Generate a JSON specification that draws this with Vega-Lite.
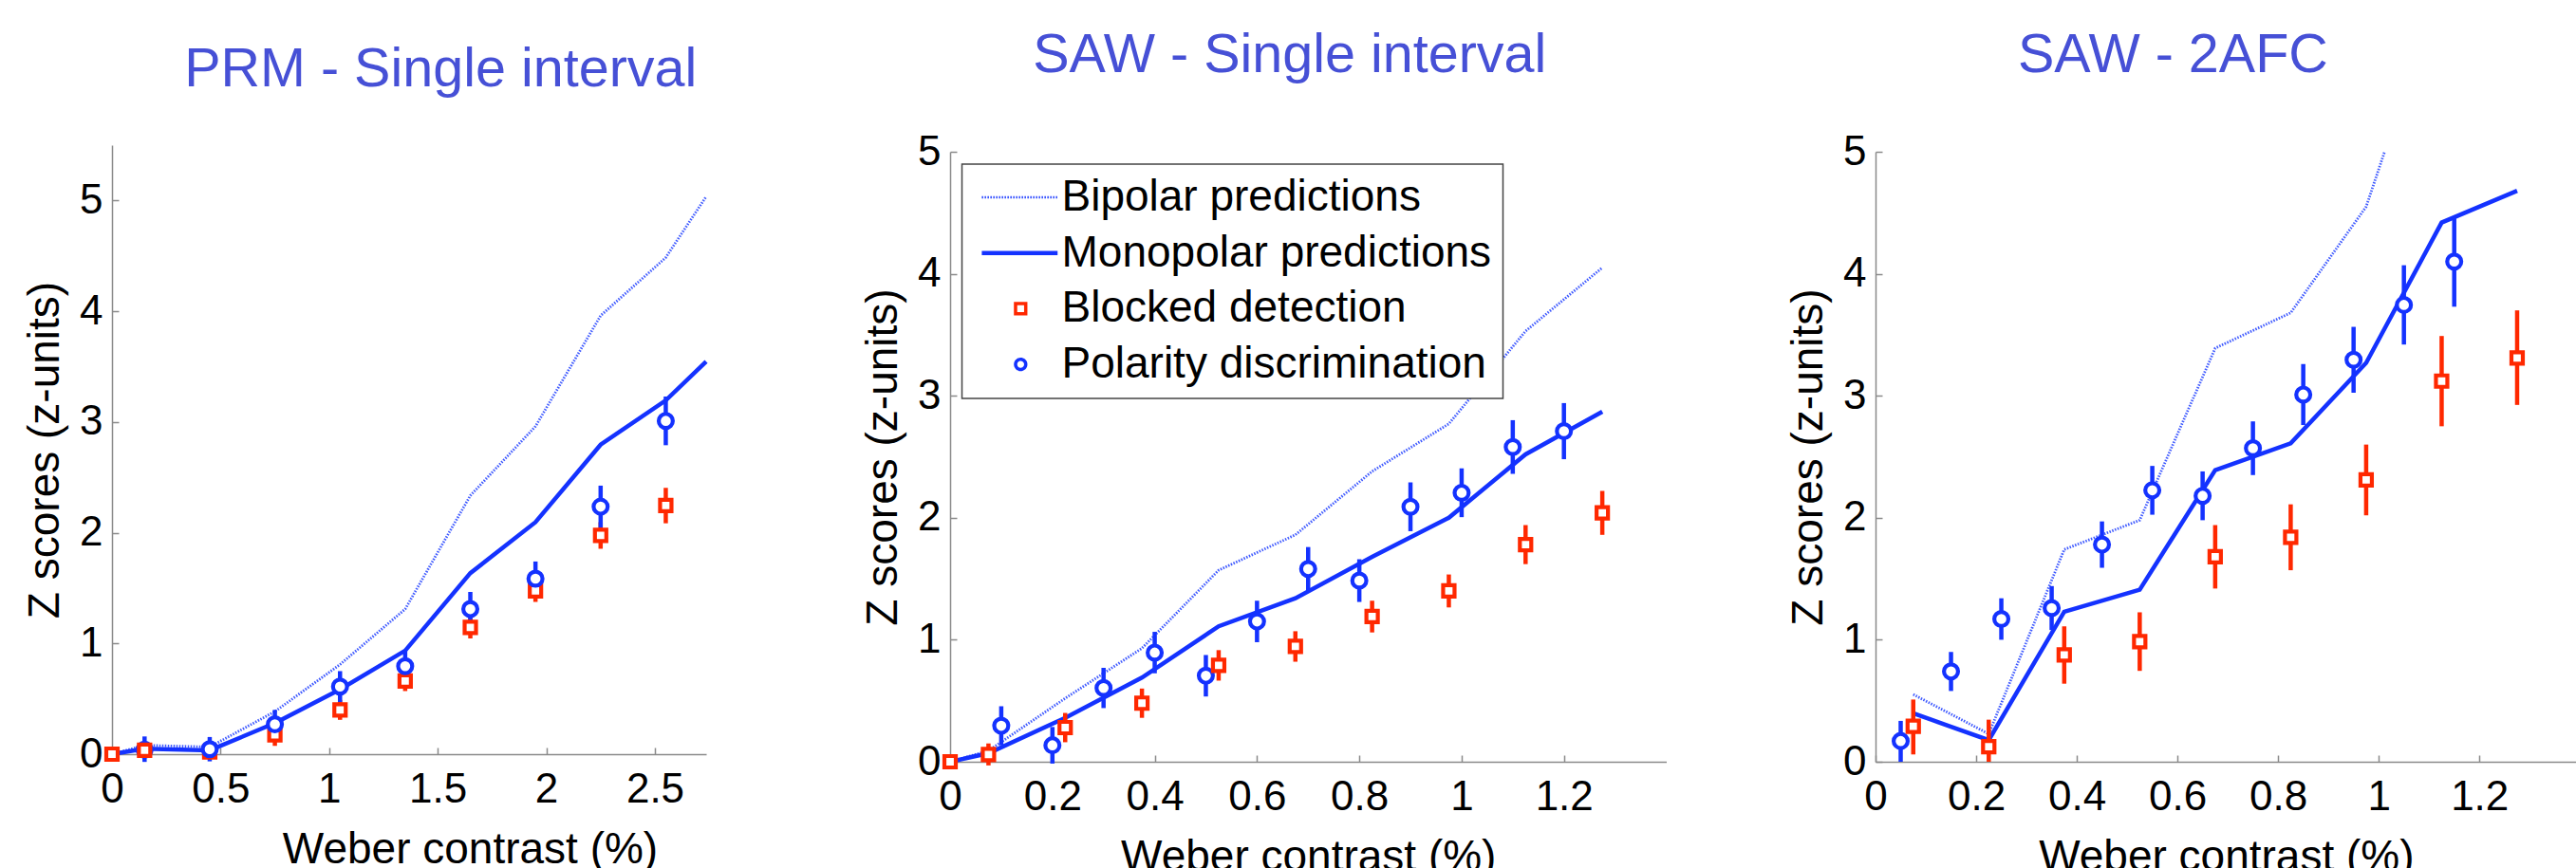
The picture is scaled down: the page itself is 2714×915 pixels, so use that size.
{
  "$schema": "https://vega.github.io/schema/vega-lite/v6.json",
  "usermeta": {"embedOptions": {"actions": false}},
  "background": "white",
  "padding": {"left": 24, "top": 29, "right": 0, "bottom": 0},
  "bounds": "flush",
  "spacing": 220,
  "config": {
    "view": {"stroke": null},
    "font": "Liberation Sans",
    "axis": {"labelFont": "Liberation Sans", "labelFontSize": 44, "labelColor": "#000000", "titleFont": "Liberation Sans", "titleFontSize": 46, "titleFontWeight": "normal", "titleColor": "#000000", "domainColor": "#8a8a8a", "domainWidth": 1.5, "tickColor": "#8a8a8a", "tickWidth": 1.5, "tickSize": -7, "grid": false, "format": "~g", "labelFlush": false, "labelOverlap": false},
    "axisX": {"labelPadding": 22, "titleY": 114, "titleBaseline": "alphabetic"},
    "axisY": {"labelPadding": 17, "titleX": -71, "titleBaseline": "middle", "titleAngle": 270, "titleAlign": "center"},
    "title": {"font": "Liberation Sans", "fontSize": 57.5, "fontWeight": "normal", "color": "#4650d6", "anchor": "middle", "frame": "group", "offset": 50, "baseline": "alphabetic"}
  },
  "datasets": {
    "p1lines": [
      {"series": "Bipolar predictions", "x": 0, "y": 0},
      {"series": "Bipolar predictions", "x": 0.15, "y": 0.08},
      {"series": "Bipolar predictions", "x": 0.45, "y": 0.065},
      {"series": "Bipolar predictions", "x": 0.75, "y": 0.385},
      {"series": "Bipolar predictions", "x": 1.05, "y": 0.81},
      {"series": "Bipolar predictions", "x": 1.35, "y": 1.31},
      {"series": "Bipolar predictions", "x": 1.65, "y": 2.335},
      {"series": "Bipolar predictions", "x": 1.95, "y": 2.96},
      {"series": "Bipolar predictions", "x": 2.25, "y": 3.96},
      {"series": "Bipolar predictions", "x": 2.55, "y": 4.485},
      {"series": "Bipolar predictions", "x": 2.736, "y": 5.035},
      {"series": "Monopolar predictions", "x": 0, "y": 0},
      {"series": "Monopolar predictions", "x": 0.15, "y": 0.05},
      {"series": "Monopolar predictions", "x": 0.45, "y": 0.035},
      {"series": "Monopolar predictions", "x": 0.75, "y": 0.28},
      {"series": "Monopolar predictions", "x": 1.05, "y": 0.585},
      {"series": "Monopolar predictions", "x": 1.35, "y": 0.935},
      {"series": "Monopolar predictions", "x": 1.65, "y": 1.635},
      {"series": "Monopolar predictions", "x": 1.95, "y": 2.095},
      {"series": "Monopolar predictions", "x": 2.25, "y": 2.795},
      {"series": "Monopolar predictions", "x": 2.55, "y": 3.195},
      {"series": "Monopolar predictions", "x": 2.736, "y": 3.545}
    ],
    "p1pts": [
      {"series": "Blocked detection", "x": 0, "y": 0, "lo": 0, "hi": 0},
      {"series": "Polarity discrimination", "x": 0.15, "y": 0.04, "lo": -0.07, "hi": 0.16},
      {"series": "Blocked detection", "x": 0.15, "y": 0.035, "lo": -0.03, "hi": 0.1},
      {"series": "Blocked detection", "x": 0.45, "y": 0.02, "lo": -0.03, "hi": 0.07},
      {"series": "Polarity discrimination", "x": 0.45, "y": 0.045, "lo": -0.065, "hi": 0.155},
      {"series": "Blocked detection", "x": 0.75, "y": 0.175, "lo": 0.075, "hi": 0.275},
      {"series": "Polarity discrimination", "x": 0.75, "y": 0.27, "lo": 0.14, "hi": 0.4},
      {"series": "Blocked detection", "x": 1.05, "y": 0.4, "lo": 0.31, "hi": 0.49},
      {"series": "Polarity discrimination", "x": 1.05, "y": 0.61, "lo": 0.47, "hi": 0.75},
      {"series": "Blocked detection", "x": 1.35, "y": 0.66, "lo": 0.57, "hi": 0.75},
      {"series": "Polarity discrimination", "x": 1.35, "y": 0.795, "lo": 0.655, "hi": 0.935},
      {"series": "Blocked detection", "x": 1.65, "y": 1.145, "lo": 1.045, "hi": 1.245},
      {"series": "Polarity discrimination", "x": 1.65, "y": 1.31, "lo": 1.155, "hi": 1.465},
      {"series": "Blocked detection", "x": 1.95, "y": 1.475, "lo": 1.375, "hi": 1.575},
      {"series": "Polarity discrimination", "x": 1.95, "y": 1.585, "lo": 1.43, "hi": 1.74},
      {"series": "Blocked detection", "x": 2.25, "y": 1.975, "lo": 1.855, "hi": 2.095},
      {"series": "Polarity discrimination", "x": 2.25, "y": 2.235, "lo": 2.045, "hi": 2.425},
      {"series": "Blocked detection", "x": 2.55, "y": 2.245, "lo": 2.085, "hi": 2.405},
      {"series": "Polarity discrimination", "x": 2.55, "y": 3.01, "lo": 2.79, "hi": 3.23}
    ],
    "p2lines": [
      {"series": "Bipolar predictions", "x": 0, "y": 0},
      {"series": "Bipolar predictions", "x": 0.075, "y": 0.09},
      {"series": "Bipolar predictions", "x": 0.225, "y": 0.52},
      {"series": "Bipolar predictions", "x": 0.375, "y": 0.93},
      {"series": "Bipolar predictions", "x": 0.525, "y": 1.57},
      {"series": "Bipolar predictions", "x": 0.675, "y": 1.86},
      {"series": "Bipolar predictions", "x": 0.825, "y": 2.38},
      {"series": "Bipolar predictions", "x": 0.975, "y": 2.77},
      {"series": "Bipolar predictions", "x": 1.125, "y": 3.53},
      {"series": "Bipolar predictions", "x": 1.275, "y": 4.05},
      {"series": "Monopolar predictions", "x": 0, "y": 0},
      {"series": "Monopolar predictions", "x": 0.075, "y": 0.07},
      {"series": "Monopolar predictions", "x": 0.225, "y": 0.36},
      {"series": "Monopolar predictions", "x": 0.375, "y": 0.69},
      {"series": "Monopolar predictions", "x": 0.525, "y": 1.11},
      {"series": "Monopolar predictions", "x": 0.675, "y": 1.34},
      {"series": "Monopolar predictions", "x": 0.825, "y": 1.68},
      {"series": "Monopolar predictions", "x": 0.975, "y": 2.0},
      {"series": "Monopolar predictions", "x": 1.125, "y": 2.52},
      {"series": "Monopolar predictions", "x": 1.275, "y": 2.87}
    ],
    "p2pts": [
      {"series": "Polarity discrimination", "x": 0.1, "y": 0.295, "lo": 0.135, "hi": 0.455},
      {"series": "Polarity discrimination", "x": 0.2, "y": 0.135, "lo": -0.015, "hi": 0.285},
      {"series": "Polarity discrimination", "x": 0.3, "y": 0.605, "lo": 0.44, "hi": 0.77},
      {"series": "Polarity discrimination", "x": 0.4, "y": 0.895, "lo": 0.725, "hi": 1.065},
      {"series": "Polarity discrimination", "x": 0.5, "y": 0.705, "lo": 0.535, "hi": 0.875},
      {"series": "Polarity discrimination", "x": 0.6, "y": 1.15, "lo": 0.98, "hi": 1.32},
      {"series": "Polarity discrimination", "x": 0.7, "y": 1.58, "lo": 1.4, "hi": 1.76},
      {"series": "Polarity discrimination", "x": 0.8, "y": 1.485, "lo": 1.31, "hi": 1.66},
      {"series": "Polarity discrimination", "x": 0.9, "y": 2.09, "lo": 1.89, "hi": 2.29},
      {"series": "Polarity discrimination", "x": 1.0, "y": 2.205, "lo": 2.005, "hi": 2.405},
      {"series": "Polarity discrimination", "x": 1.1, "y": 2.58, "lo": 2.36, "hi": 2.8},
      {"series": "Polarity discrimination", "x": 1.2, "y": 2.71, "lo": 2.48, "hi": 2.94},
      {"series": "Blocked detection", "x": 0, "y": 0, "lo": 0, "hi": 0},
      {"series": "Blocked detection", "x": 0.075, "y": 0.06, "lo": -0.03, "hi": 0.15},
      {"series": "Blocked detection", "x": 0.225, "y": 0.28, "lo": 0.16, "hi": 0.4},
      {"series": "Blocked detection", "x": 0.375, "y": 0.48, "lo": 0.36, "hi": 0.6},
      {"series": "Blocked detection", "x": 0.525, "y": 0.79, "lo": 0.665, "hi": 0.915},
      {"series": "Blocked detection", "x": 0.675, "y": 0.945, "lo": 0.82, "hi": 1.07},
      {"series": "Blocked detection", "x": 0.825, "y": 1.19, "lo": 1.06, "hi": 1.32},
      {"series": "Blocked detection", "x": 0.975, "y": 1.4, "lo": 1.265, "hi": 1.535},
      {"series": "Blocked detection", "x": 1.125, "y": 1.78, "lo": 1.62, "hi": 1.94},
      {"series": "Blocked detection", "x": 1.275, "y": 2.04, "lo": 1.86, "hi": 2.22}
    ],
    "p3lines": [
      {"series": "Bipolar predictions", "x": 0.075, "y": 0.552},
      {"series": "Bipolar predictions", "x": 0.225, "y": 0.228},
      {"series": "Bipolar predictions", "x": 0.375, "y": 1.74},
      {"series": "Bipolar predictions", "x": 0.525, "y": 1.98},
      {"series": "Bipolar predictions", "x": 0.675, "y": 3.39},
      {"series": "Bipolar predictions", "x": 0.825, "y": 3.68},
      {"series": "Bipolar predictions", "x": 0.975, "y": 4.55},
      {"series": "Bipolar predictions", "x": 1.0116, "y": 5.0},
      {"series": "Monopolar predictions", "x": 0.075, "y": 0.397},
      {"series": "Monopolar predictions", "x": 0.225, "y": 0.177},
      {"series": "Monopolar predictions", "x": 0.375, "y": 1.23},
      {"series": "Monopolar predictions", "x": 0.525, "y": 1.41},
      {"series": "Monopolar predictions", "x": 0.675, "y": 2.39},
      {"series": "Monopolar predictions", "x": 0.825, "y": 2.61},
      {"series": "Monopolar predictions", "x": 0.975, "y": 3.27},
      {"series": "Monopolar predictions", "x": 1.125, "y": 4.42},
      {"series": "Monopolar predictions", "x": 1.275, "y": 4.68}
    ],
    "p3pts": [
      {"series": "Polarity discrimination", "x": 0.05, "y": 0.17, "lo": 0, "hi": 0.335},
      {"series": "Polarity discrimination", "x": 0.15, "y": 0.74, "lo": 0.58, "hi": 0.9},
      {"series": "Polarity discrimination", "x": 0.25, "y": 1.17, "lo": 1.0, "hi": 1.34},
      {"series": "Polarity discrimination", "x": 0.35, "y": 1.26, "lo": 1.08, "hi": 1.44},
      {"series": "Polarity discrimination", "x": 0.45, "y": 1.78, "lo": 1.59, "hi": 1.97},
      {"series": "Polarity discrimination", "x": 0.55, "y": 2.225, "lo": 2.025, "hi": 2.425},
      {"series": "Polarity discrimination", "x": 0.65, "y": 2.18, "lo": 1.98, "hi": 2.38},
      {"series": "Polarity discrimination", "x": 0.75, "y": 2.57, "lo": 2.35, "hi": 2.79},
      {"series": "Polarity discrimination", "x": 0.85, "y": 3.01, "lo": 2.76, "hi": 3.26},
      {"series": "Polarity discrimination", "x": 0.95, "y": 3.295, "lo": 3.025, "hi": 3.565},
      {"series": "Polarity discrimination", "x": 1.05, "y": 3.745, "lo": 3.42, "hi": 4.07},
      {"series": "Polarity discrimination", "x": 1.15, "y": 4.1, "lo": 3.73, "hi": 4.455},
      {"series": "Blocked detection", "x": 0.075, "y": 0.29, "lo": 0.06, "hi": 0.51},
      {"series": "Blocked detection", "x": 0.225, "y": 0.124, "lo": 0, "hi": 0.345},
      {"series": "Blocked detection", "x": 0.375, "y": 0.876, "lo": 0.64, "hi": 1.11},
      {"series": "Blocked detection", "x": 0.525, "y": 0.985, "lo": 0.745, "hi": 1.225},
      {"series": "Blocked detection", "x": 0.675, "y": 1.68, "lo": 1.42, "hi": 1.94},
      {"series": "Blocked detection", "x": 0.825, "y": 1.84, "lo": 1.57, "hi": 2.11},
      {"series": "Blocked detection", "x": 0.975, "y": 2.31, "lo": 2.02, "hi": 2.6},
      {"series": "Blocked detection", "x": 1.125, "y": 3.12, "lo": 2.75, "hi": 3.49},
      {"series": "Blocked detection", "x": 1.275, "y": 3.31, "lo": 2.925, "hi": 3.7}
    ]
  },
  "resolve": {"scale": {"stroke": "independent", "shape": "independent", "size": "independent"}, "legend": {"stroke": "independent", "shape": "independent", "size": "independent"}},
  "hconcat": [
    {
      "width": 662.5,
      "height": 650,
      "title": {"text": "PRM - Single interval", "dx": 15},
      "encoding": {
        "x": {"field": "x", "type": "quantitative", "scale": {"domain": [0, 2.736], "range": [0, 626], "nice": false, "zero": false}, "axis": {"values": [0, 0.5, 1, 1.5, 2, 2.5], "title": "Weber contrast (%)", "offset": -8, "titleX": 377}},
        "y": {"field": "y", "type": "quantitative", "scale": {"domain": [0, 5.5], "range": [642, 0], "nice": false, "zero": false}, "axis": {"values": [0, 1, 2, 3, 4, 5], "title": "Z scores (z-units)"}},
        "stroke": {"field": "series", "type": "nominal", "scale": {"domain": ["Bipolar predictions", "Monopolar predictions", "Blocked detection", "Polarity discrimination"], "range": ["#2a48ff", "#1432ff", "#ff2800", "#1432ff"]}, "legend": null}
      },
      "layer": [
        {"data": {"name": "p1lines"}, "transform": [{"filter": "datum.series == 'Bipolar predictions'"}], "mark": {"type": "line", "strokeDash": [1.5, 1.5], "strokeWidth": 2.8, "opacity": 0.9}, "encoding": {}},
        {"data": {"name": "p1lines"}, "transform": [{"filter": "datum.series == 'Monopolar predictions'"}], "mark": {"type": "line", "strokeWidth": 4.5}, "encoding": {}},
        {"data": {"name": "p1pts"}, "mark": {"type": "rule", "strokeWidth": 4.5}, "encoding": {"y": {"field": "lo", "type": "quantitative", "scale": {"domain": [0, 5.5], "range": [642, 0], "nice": false, "zero": false}, "axis": {"values": [0, 1, 2, 3, 4, 5], "title": "Z scores (z-units)"}}, "y2": {"field": "hi"}}},
        {"data": {"name": "p1pts"}, "mark": {"type": "point", "fill": "white", "fillOpacity": 1, "opacity": 1, "strokeWidth": 4.2}, "encoding": {
          "shape": {"field": "series", "type": "nominal", "scale": {"domain": ["Blocked detection", "Polarity discrimination"], "range": ["square", "circle"]}, "legend": null},
          "size": {"field": "series", "type": "nominal", "scale": {"domain": ["Blocked detection", "Polarity discrimination"], "range": [144, 220]}, "legend": null}}}
      ]
    },
    {
      "width": 754.5,
      "height": 650,
      "title": {"text": "SAW - Single interval", "dx": -19.5},
      "encoding": {
        "x": {"field": "x", "type": "quantitative", "scale": {"domain": [0, 1.4], "nice": false, "zero": false}, "axis": {"values": [0, 0.2, 0.4, 0.6, 0.8, 1, 1.2], "title": "Weber contrast (%)"}},
        "y": {"field": "y", "type": "quantitative", "scale": {"domain": [0, 5], "range": [650, 7], "nice": false, "zero": false}, "axis": {"values": [0, 1, 2, 3, 4, 5], "title": "Z scores (z-units)"}},
        "stroke": {"field": "series", "type": "nominal", "scale": {"domain": ["Bipolar predictions", "Monopolar predictions", "Blocked detection", "Polarity discrimination"], "range": ["#2a48ff", "#1432ff", "#ff2800", "#1432ff"]},
          "legend": {
            "orient": "none", "legendX": 12.5, "legendY": 20, "title": null,
            "labelFont": "Liberation Sans", "labelFontSize": 46, "labelColor": "#000000", "labelOffset": 47, "labelLimit": 700,
            "padding": 12, "rowPadding": 12.7, "fillColor": "white", "strokeColor": "#444444",
            "symbolSize": 180, "symbolStrokeWidth": 1.5,
            "encode": {
              "symbols": {"update": {
                "shape": {"signal": "datum.value == 'Blocked detection' ? 'M3.2,-0.8H4.8V0.8H3.2Z' : datum.value == 'Polarity discrimination' ? 'M4.8,0A0.8,0.8,0,1,1,3.2,0A0.8,0.8,0,1,1,4.8,0Z' : 'M-2.1,0H9.8'"},
                "strokeDash": {"signal": "datum.value == 'Bipolar predictions' ? [1.5,1.5] : [1,0]"},
                "strokeWidth": {"signal": "datum.value == 'Monopolar predictions' ? 4.5 : datum.value == 'Bipolar predictions' ? 2.5 : 3.5"},
                "fill": {"value": "white"},
                "size": {"value": 180},
                "opacity": {"value": 1}
              }},
              "legend": {"update": {"strokeWidth": {"value": 1.5}}}
            }
          }
        }
      },
      "layer": [
        {"data": {"name": "p2lines"}, "transform": [{"filter": "datum.series == 'Bipolar predictions'"}], "mark": {"type": "line", "strokeDash": [1.5, 1.5], "strokeWidth": 2.8, "opacity": 0.9}, "encoding": {}},
        {"data": {"name": "p2lines"}, "transform": [{"filter": "datum.series == 'Monopolar predictions'"}], "mark": {"type": "line", "strokeWidth": 4.5}, "encoding": {}},
        {"data": {"name": "p2pts"}, "mark": {"type": "rule", "strokeWidth": 4.5}, "encoding": {"y": {"field": "lo", "type": "quantitative", "scale": {"domain": [0, 5], "range": [650, 7], "nice": false, "zero": false}, "axis": {"values": [0, 1, 2, 3, 4, 5], "title": "Z scores (z-units)"}}, "y2": {"field": "hi"}}},
        {"data": {"name": "p2pts"}, "mark": {"type": "point", "fill": "white", "fillOpacity": 1, "opacity": 1, "strokeWidth": 4.2}, "encoding": {
          "shape": {"field": "series", "type": "nominal", "scale": {"domain": ["Blocked detection", "Polarity discrimination"], "range": ["square", "circle"]}, "legend": null},
          "size": {"field": "series", "type": "nominal", "scale": {"domain": ["Blocked detection", "Polarity discrimination"], "range": [144, 220]}, "legend": null}}}
      ]
    },
    {
      "width": 738.7,
      "height": 650,
      "title": {"text": "SAW - 2AFC", "dx": -56},
      "encoding": {
        "x": {"field": "x", "type": "quantitative", "scale": {"domain": [0, 1.3933], "nice": false, "zero": false}, "axis": {"values": [0, 0.2, 0.4, 0.6, 0.8, 1, 1.2], "title": "Weber contrast (%)"}},
        "y": {"field": "y", "type": "quantitative", "scale": {"domain": [0, 5], "range": [650, 7], "nice": false, "zero": false}, "axis": {"values": [0, 1, 2, 3, 4, 5], "title": "Z scores (z-units)"}},
        "stroke": {"field": "series", "type": "nominal", "scale": {"domain": ["Bipolar predictions", "Monopolar predictions", "Blocked detection", "Polarity discrimination"], "range": ["#2a48ff", "#1432ff", "#ff2800", "#1432ff"]}, "legend": null}
      },
      "layer": [
        {"data": {"name": "p3lines"}, "transform": [{"filter": "datum.series == 'Bipolar predictions'"}], "mark": {"type": "line", "strokeDash": [1.5, 1.5], "strokeWidth": 2.8, "opacity": 0.9}, "encoding": {}},
        {"data": {"name": "p3lines"}, "transform": [{"filter": "datum.series == 'Monopolar predictions'"}], "mark": {"type": "line", "strokeWidth": 4.5}, "encoding": {}},
        {"data": {"name": "p3pts"}, "mark": {"type": "rule", "strokeWidth": 4.5}, "encoding": {"y": {"field": "lo", "type": "quantitative", "scale": {"domain": [0, 5], "range": [650, 7], "nice": false, "zero": false}, "axis": {"values": [0, 1, 2, 3, 4, 5], "title": "Z scores (z-units)"}}, "y2": {"field": "hi"}}},
        {"data": {"name": "p3pts"}, "mark": {"type": "point", "fill": "white", "fillOpacity": 1, "opacity": 1, "strokeWidth": 4.2}, "encoding": {
          "shape": {"field": "series", "type": "nominal", "scale": {"domain": ["Blocked detection", "Polarity discrimination"], "range": ["square", "circle"]}, "legend": null},
          "size": {"field": "series", "type": "nominal", "scale": {"domain": ["Blocked detection", "Polarity discrimination"], "range": [144, 220]}, "legend": null}}}
      ]
    }
  ]
}
